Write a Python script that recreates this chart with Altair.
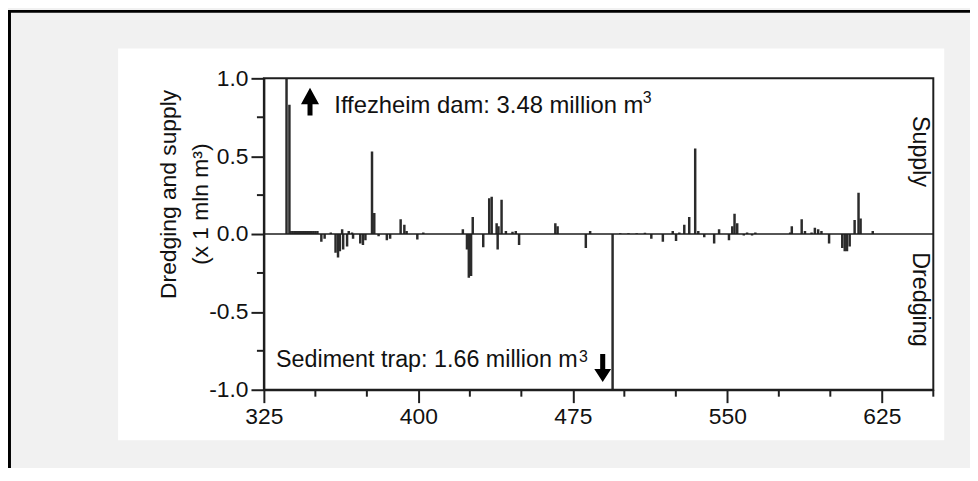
import altair as alt
import pandas as pd

# ---------------- data ----------------
km = [336.0, 337.4,
      338, 339, 340, 341, 342, 343, 344, 345, 346, 347, 348, 349, 350, 351,
      352.9, 354.5, 357.5, 359.8, 361.0, 361.9, 363.0, 363.5, 365.4, 366.2,
      367.8, 368.3, 371.8, 373.1, 374.3, 377.5, 378.6, 380.7, 384.7, 386.3,
      391.4, 393.2, 394.3, 399.5, 402.4, 421.6, 423.6, 424.5, 425.6, 426.4,
      431.5, 434.4, 435.6, 438.0, 438.5, 438.9, 440.4, 442.5, 445.7, 447.3,
      448.9, 466.5, 467.6, 481.3, 483.4, 494.3, 498.0, 502.0, 506.0, 510.0,
      513.1, 518.7, 523.5, 525.1, 526.7, 529.1, 531.5, 534.4, 535.9, 538.8,
      543.6, 546.0, 550.8, 552.4, 553.5, 554.8, 558.0, 559.6, 562.0, 563.6,
      580.5, 581.3, 586.1, 587.7, 590.9, 592.5, 594.1, 595.7, 599.4, 605.8,
      607.0, 608.1, 609.4, 611.8, 613.7, 614.7, 620.6]
volume = [3.48, 0.83,
          0.02, 0.02, 0.02, 0.02, 0.02, 0.02, 0.02, 0.02, 0.02, 0.02, 0.02, 0.02, 0.02, 0.02,
          -0.05, -0.03, 0.01, -0.12, -0.15, -0.11, 0.03, -0.10, -0.08, 0.02,
          0.01, -0.03, -0.06, -0.07, -0.04, 0.53, 0.135, -0.015, -0.04, -0.03,
          0.095, 0.06, 0.02, -0.035, 0.01, 0.03, -0.10, -0.28, -0.27, 0.11,
          -0.085, 0.23, 0.24, 0.07, -0.10, 0.05, 0.22, 0.02, 0.015, 0.02,
          -0.07, 0.07, 0.05, -0.09, 0.02, -1.66, 0.005, 0.005, 0.005, 0.008,
          -0.03, -0.05, 0.02, -0.045, 0.01, 0.06, 0.11, 0.55, 0.02, -0.02,
          -0.06, 0.03, -0.04, 0.05, 0.13, 0.07, -0.01, 0.01, -0.01, 0.01,
          0.01, 0.05, 0.095, 0.02, 0.01, 0.04, 0.03, 0.02, -0.06, -0.09,
          -0.11, -0.11, -0.08, 0.09, 0.265, 0.10, 0.02]

x_ticks_major = [325, 400, 475, 550, 625]
x_ticks_minor = [350, 375, 425, 450, 500, 525, 575, 600, 650]
y_ticks_major = [-1.0, -0.5, 0.0, 0.5, 1.0]
y_ticks_minor = [-0.75, -0.25, 0.25, 0.75]

y_title_1 = "Dredging and supply"
y_title_2 = "(x 1 mln m³)"
iff_label = "Iffezheim dam: 3.48 million m"
trap_label = "Sediment trap: 1.66 million m"

# ---------------- layout ----------------
W, H = 675, 314
FONT = "Liberation Sans"
INK = "#1e1e1e"

x_scale = alt.Scale(domain=[325, 650], nice=False, zero=False)
y_scale = alt.Scale(domain=[-1, 1], nice=False, zero=False)

one = alt.Data(values=[{"a": 1}])

x_axis = alt.Axis(values=x_ticks_major, title=None, grid=False, labelPadding=3,
                  labelFlush=False, labelOverlap=False, format="d", zindex=3)
y_axis = alt.Axis(values=y_ticks_major, title=None, grid=False, labelPadding=3,
                  labelOverlap=False,
                  labelExpr="datum.value < 0 ? '-' + format(abs(datum.value), '.1f') : format(datum.value, '.1f')",
                  zindex=3)

panel = alt.Chart(one).mark_rect(color="white").encode(
    x=alt.value(-147), x2=alt.value(686), y=alt.value(-30), y2=alt.value(365))

border_top = alt.Chart(one).mark_rule(color="black", strokeWidth=3).encode(
    x=alt.value(-258), x2=alt.value(W + 37), y=alt.value(-67.5))
border_left = alt.Chart(one).mark_rule(color="black", strokeWidth=3).encode(
    x=alt.value(-256.5), y=alt.value(-69), y2=alt.value(H + 90))

bars_df = pd.DataFrame({"km": km, "volume": volume})
bars = alt.Chart(bars_df).transform_calculate(
    x0="datum.km - 0.6", x1="datum.km + 0.6"
).mark_rect(color="#2b2b2b", clip=True).encode(
    x=alt.X("x0:Q", scale=x_scale, axis=x_axis),
    x2="x1:Q",
    y=alt.Y("volume:Q", scale=y_scale, axis=y_axis),
    y2=alt.Y2Datum(0),
)

zero = alt.Chart(one).mark_rule(color=INK, strokeWidth=1.5).encode(
    y=alt.YDatum(0, scale=y_scale))

frame = alt.Chart(one).mark_rect(filled=False, stroke=INK, strokeWidth=2).encode(
    x=alt.value(0), x2=alt.value(W), y=alt.value(0), y2=alt.value(H))

xminor = alt.Chart(pd.DataFrame({"t": x_ticks_minor})).mark_rule(color=INK, strokeWidth=2).encode(
    x=alt.X("t:Q", scale=x_scale), y=alt.value(H), y2=alt.value(H + 7))
yminor = alt.Chart(pd.DataFrame({"t": y_ticks_minor})).mark_rule(color=INK, strokeWidth=2).encode(
    y=alt.Y("t:Q", scale=y_scale), x=alt.value(-7), x2=alt.value(0))


def label(text, xv, yv, size=23.5, angle=0, align="left", baseline="alphabetic"):
    return alt.Chart(one).mark_text(text=text, font=FONT, fontSize=size, color="#111",
                                    angle=angle, align=align, baseline=baseline).encode(
        x=alt.XDatum(xv, scale=x_scale),
        y=alt.YDatum(yv, scale=y_scale))


iff = label(iff_label, 359.2, 0.779, size=24)
iff_sup = label("3", 509.0, 0.843, size=16)
trap = label(trap_label, 330.9, -0.857)
trap_sup = label("3", 478.0, -0.824, size=16)
supply = label("Supply", 640.0, 0.53, angle=90, align="center")
dredging = label("Dredging", 640.0, -0.42, angle=90, align="center")

up_arrow = alt.Chart(one).mark_point(
    shape="M0,-1L0.65,0.2L0.18,0.2L0.18,1L-0.18,1L-0.18,0.2L-0.65,0.2Z",
    filled=True, size=784, color="black", opacity=1).encode(
    x=alt.XDatum(347.4, scale=x_scale),
    y=alt.YDatum(0.851, scale=y_scale))
down_arrow = alt.Chart(one).mark_point(
    shape="M0,1L0.6,0.06L0.18,0.06L0.18,-1L-0.18,-1L-0.18,0.06L-0.6,0.06Z",
    filled=True, size=800, color="black", opacity=1).encode(
    x=alt.XDatum(489.5, scale=x_scale),
    y=alt.YDatum(-0.861, scale=y_scale))

ytitle1 = alt.Chart(one).mark_text(text=y_title_1, font=FONT, fontSize=23, color="#111",
                                   angle=270, align="center", baseline="alphabetic").encode(
    x=alt.value(-89), y=alt.value(117))
ytitle2 = alt.Chart(one).mark_text(text=y_title_2, font=FONT, fontSize=23, color="#111",
                                   angle=270, align="center", baseline="alphabetic").encode(
    x=alt.value(-56), y=alt.value(127))

chart = alt.layer(
    panel, border_top, border_left, bars, zero, frame, xminor, yminor,
    iff, iff_sup, trap, trap_sup, supply, dredging, up_arrow, down_arrow,
    ytitle1, ytitle2,
).properties(
    width=W, height=H,
    background="#f1f1f1",
    autosize=alt.AutoSizeParams(type="none"),
    padding={"left": 258, "top": 69, "right": 37, "bottom": 77},
).configure_view(
    stroke="transparent"
).configure_axis(
    labelFont=FONT, labelFontSize=23, labelColor="#111", tickSize=13, tickWidth=2,
    tickColor=INK, domainColor=INK, domainWidth=2, grid=False,
)

chart.save("out.html", embed_options={"renderer": "svg", "actions": False})
